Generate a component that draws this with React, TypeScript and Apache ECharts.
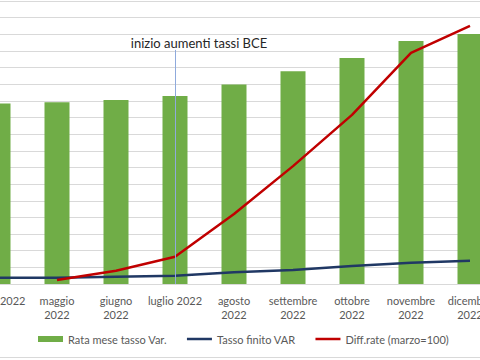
import React, { useEffect, useRef } from "react";
import * as echarts from "echarts";

const categories = [
  "aprile 2022",
  "maggio 2022",
  "giugno 2022",
  "luglio 2022",
  "agosto 2022",
  "settembre 2022",
  "ottobre 2022",
  "novembre 2022",
  "dicembre 2022",
];
const tickLabels = [
  "aprile 2022",
  "maggio\n2022",
  "giugno\n2022",
  "luglio 2022",
  "agosto\n2022",
  "settembre\n2022",
  "ottobre\n2022",
  "novembre\n2022",
  "dicembre\n2022",
];
const rataMese = [542, 546, 553, 565, 599, 639, 679, 730, 751];
const tassoFinito = [0.19, 0.19, 0.22, 0.25, 0.35, 0.42, 0.54, 0.64, 0.7];
const diffRate = [null, 12, 40, 82, 210, 354, 508, 694, 775];
const bceMarkerCategory = "luglio 2022";
const bceMarkerTop = 703;
const bceLabel = "inizio aumenti tassi BCE";

const FONT = "Lato, 'Open Sans', sans-serif";
const LINE_ICON = "path://M0,0L10,0L10,1L0,1Z";

export default function App() {
  const ref = useRef<HTMLDivElement>(null);
  useEffect(() => {
    if (!ref.current) return;
    const chart = echarts.init(ref.current, null, { renderer: "svg" });
    chart.setOption({
      animation: false,
      backgroundColor: "#ffffff",
      textStyle: { fontFamily: FONT },
      grid: { left: 8.5, width: 531, top: 1, height: 283 },
      legend: {
        left: 73,
        top: 328.5,
        itemWidth: 25,
        itemHeight: 6,
        itemGap: 20,
        textStyle: { color: "#595959", fontSize: 11, fontFamily: FONT },
        data: [
          { name: "Rata mese tasso Var.", icon: "rect" },
          { name: "Tasso finito VAR", icon: LINE_ICON },
          { name: "Diff.rate (marzo=100)", icon: LINE_ICON },
        ],
      },
      xAxis: {
        type: "category",
        data: categories,
        axisTick: { show: false },
        axisLine: { lineStyle: { color: "#d9d9d9", width: 1 } },
        axisLabel: {
          interval: 0,
          color: "#595959",
          fontSize: 11,
          lineHeight: 14,
          margin: 9,
          formatter: (_v: string, i: number) => tickLabels[i],
        },
      },
      yAxis: [
        {
          type: "value",
          min: 0,
          max: 850,
          interval: 50,
          axisLabel: { show: false },
          axisLine: { show: false },
          axisTick: { show: false },
          splitLine: { lineStyle: { color: "#d9d9d9", width: 1 } },
        },
        {
          type: "value",
          min: 0,
          max: 8.5,
          interval: 0.5,
          show: false,
          splitLine: { show: false },
        },
      ],
      series: [
        {
          name: "Rata mese tasso Var.",
          type: "bar",
          data: rataMese,
          barWidth: 25,
          itemStyle: { color: "#70ad47" },
          markLine: {
            symbol: "none",
            silent: true,
            lineStyle: { color: "#8faadc", width: 1, type: "solid" },
            label: {
              show: true,
              position: "start",
              distance: 0,
              offset: [24, 0],
              formatter: bceLabel,
              color: "#262626",
              fontSize: 13,
              fontFamily: FONT,
            },
            data: [
              [
                { coord: [bceMarkerCategory, bceMarkerTop] },
                { coord: [bceMarkerCategory, 0] },
              ],
            ],
          },
        },
        {
          name: "Tasso finito VAR",
          type: "line",
          yAxisIndex: 1,
          data: tassoFinito,
          symbol: "none",
          lineStyle: { color: "#203864", width: 2.5 },
          itemStyle: { color: "#203864" },
        },
        {
          name: "Diff.rate (marzo=100)",
          type: "line",
          data: diffRate,
          symbol: "none",
          lineStyle: { color: "#c00000", width: 2.5 },
          itemStyle: { color: "#c00000" },
        },
      ],
    });
    return () => chart.dispose();
  }, []);
  return (
    <div
      style={{
        position: "fixed",
        left: 0,
        top: 0,
        width: 480,
        height: 360,
        overflow: "hidden",
        background: "#ffffff",
      }}
    >
      <div
        ref={ref}
        style={{
          position: "absolute",
          left: -40,
          top: 0,
          width: 560,
          height: 357,
          borderBottom: "1px solid #d9d9d9",
        }}
      />
    </div>
  );
}
